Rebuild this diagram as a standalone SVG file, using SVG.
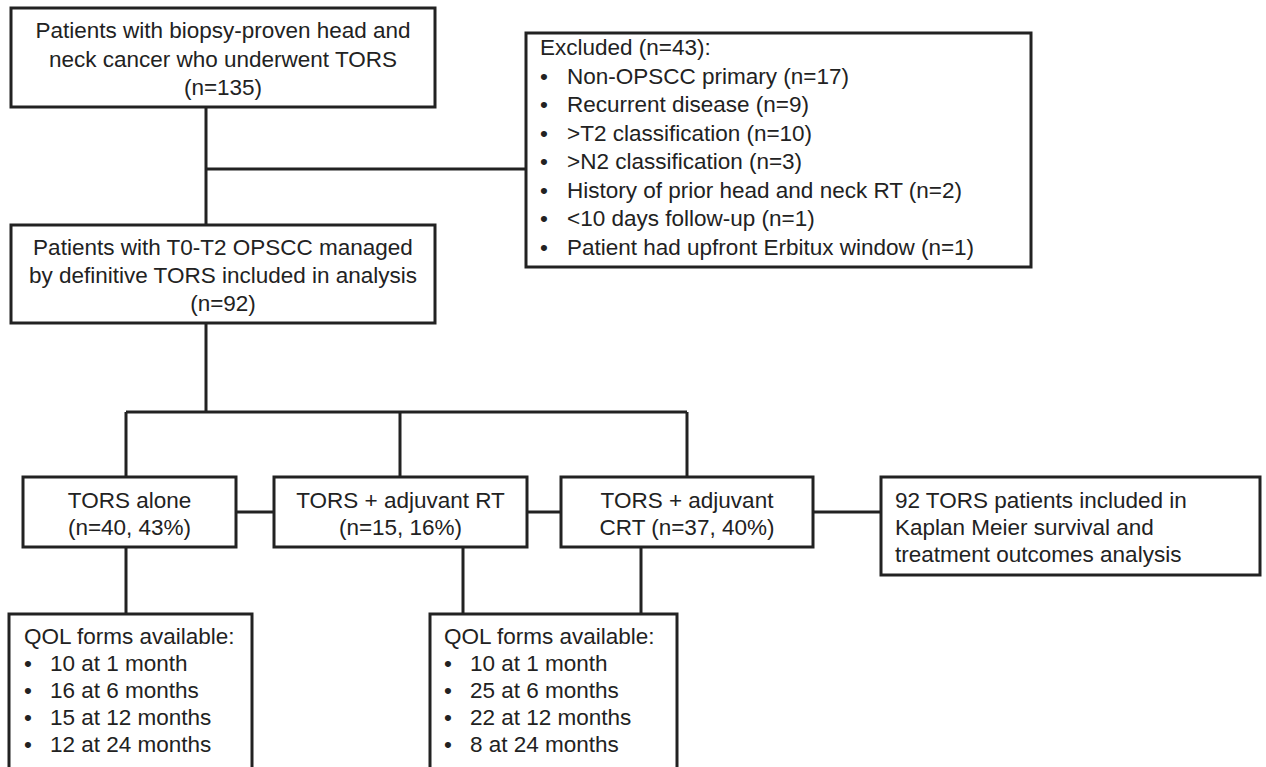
<svg xmlns="http://www.w3.org/2000/svg" width="1266" height="767" viewBox="0 0 1266 767">
<style>
.box{fill:#fff;stroke:#222;stroke-width:3}
.ln{fill:none;stroke:#222;stroke-width:3}
text{font-family:"Liberation Sans",Arial,sans-serif;font-size:22.5px;fill:#222}
.c{text-anchor:middle}
</style>
<rect width="1266" height="767" fill="#fff"/>
<g id="connectors">
<path class="ln" d="M206,107 V225 M206,169 H526 M206,323 V412 M126,412 H687 M126,412 V477 M400,412 V477 M687,412 V477 M236,512 H274 M527,512 H561 M813,512 H881 M126,547 V614 M463,547 V614 M641,547 V614"/>
</g>
<g id="n1">
<rect class="box" x="11" y="8" width="424" height="99"/>
<text class="c" x="223" y="38">Patients with biopsy-proven head and</text>
<text class="c" x="223" y="67">neck cancer who underwent TORS</text>
<text class="c" x="223" y="95">(n=135)</text>
</g>
<g id="excluded">
<rect class="box" x="526" y="33" width="505" height="234"/>
<text x="540" y="55">Excluded (n=43):</text>
<text x="540" y="83.5">•</text><text x="567" y="83.5">Non-OPSCC primary (n=17)</text>
<text x="540" y="112">•</text><text x="567" y="112">Recurrent disease (n=9)</text>
<text x="540" y="140.5">•</text><text x="567" y="140.5">&gt;T2 classification (n=10)</text>
<text x="540" y="169">•</text><text x="567" y="169">&gt;N2 classification (n=3)</text>
<text x="540" y="197.5">•</text><text x="567" y="197.5">History of prior head and neck RT (n=2)</text>
<text x="540" y="226">•</text><text x="567" y="226">&lt;10 days follow-up (n=1)</text>
<text x="540" y="254.5">•</text><text x="567" y="254.5">Patient had upfront Erbitux window (n=1)</text>
</g>
<g id="n2">
<rect class="box" x="11" y="225" width="424" height="98"/>
<text class="c" x="223" y="255">Patients with T0-T2 OPSCC managed</text>
<text class="c" x="223" y="283">by definitive TORS included in analysis</text>
<text class="c" x="223" y="311">(n=92)</text>
</g>
<g id="alone">
<rect class="box" x="23" y="477" width="213" height="70"/>
<text class="c" x="129.5" y="508">TORS alone</text>
<text class="c" x="129.5" y="535">(n=40, 43%)</text>
</g>
<g id="rt">
<rect class="box" x="274" y="477" width="253" height="70"/>
<text class="c" x="400.5" y="508">TORS + adjuvant RT</text>
<text class="c" x="400.5" y="535">(n=15, 16%)</text>
</g>
<g id="crt">
<rect class="box" x="561" y="477" width="252" height="70"/>
<text class="c" x="687" y="508">TORS + adjuvant</text>
<text class="c" x="687" y="535">CRT (n=37, 40%)</text>
</g>
<g id="km">
<rect class="box" x="881" y="477" width="379" height="98"/>
<text x="895" y="508">92 TORS patients included in</text>
<text x="895" y="535">Kaplan Meier survival and</text>
<text x="895" y="562">treatment outcomes analysis</text>
</g>
<g id="qol1">
<rect class="box" x="9" y="614" width="243" height="170"/>
<text x="24" y="644">QOL forms available:</text>
<text x="24" y="671">•</text><text x="50" y="671">10 at 1 month</text>
<text x="24" y="698">•</text><text x="50" y="698">16 at 6 months</text>
<text x="24" y="725">•</text><text x="50" y="725">15 at 12 months</text>
<text x="24" y="752">•</text><text x="50" y="752">12 at 24 months</text>
</g>
<g id="qol2">
<rect class="box" x="430" y="614" width="247" height="170"/>
<text x="444" y="644">QOL forms available:</text>
<text x="444" y="671">•</text><text x="470" y="671">10 at 1 month</text>
<text x="444" y="698">•</text><text x="470" y="698">25 at 6 months</text>
<text x="444" y="725">•</text><text x="470" y="725">22 at 12 months</text>
<text x="444" y="752">•</text><text x="470" y="752">8 at 24 months</text>
</g>
</svg>
